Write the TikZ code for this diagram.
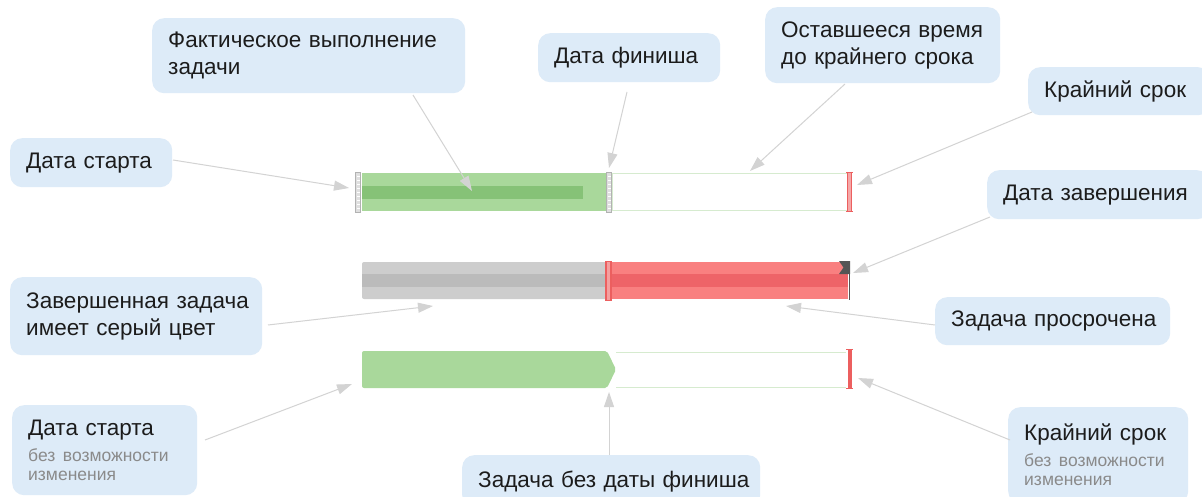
\documentclass[tikz,border=0pt]{standalone}
\usepackage{fontspec}
\setmainfont{Liberation Sans}
\usetikzlibrary{arrows.meta}
\definecolor{boxfill}{HTML}{DDEBF8}
\definecolor{txt}{HTML}{1C1C1C}
\definecolor{subtxt}{HTML}{8A8A8A}
\definecolor{gbar}{HTML}{A9D89B}
\definecolor{gstripe}{HTML}{86C277}
\definecolor{gline}{HTML}{D6EBCF}
\definecolor{greybar}{HTML}{CDCDCD}
\definecolor{greystripe}{HTML}{BBBBBB}
\definecolor{rbar}{HTML}{F98080}
\definecolor{rstripe}{HTML}{EE6468}
\definecolor{rmark}{HTML}{EC5F5F}
\definecolor{conncol}{HTML}{D3D3D3}
\definecolor{flagcol}{HTML}{555555}
\tikzset{
  lbl/.style={fill=boxfill, rounded corners=12pt, anchor=north west, align=left,
    inner xsep=16pt, inner ysep=0pt, text=txt, font=\fontsize{22.5}{27}\selectfont},
  conn/.style={draw=conncol, line width=1pt, -{Triangle[length=15pt,width=10pt,fill=conncol]}},
}
\newcommand{\subtext}[1]{{\color{subtxt}\fontsize{17.5}{19}\selectfont #1\par}}
\begin{document}
\begin{tikzpicture}[x=1pt,y=-1pt]
\clip (0,0) rectangle (1202,497);
\fill[white] (0,0) rectangle (1202,497);

% ---------- label boxes ----------
\node[lbl, text width=281pt, minimum height=75pt] (fact) at (152,18) {\mbox{Фактическое выполнение}\\задачи};
\node[lbl, text width=150pt, minimum height=49pt] (fin) at (538,33) {\mbox{Дата финиша}};
\node[lbl, text width=203pt, minimum height=76pt] (rem) at (765,7) {\mbox{Оставшееся время}\\\mbox{до крайнего срока}};
\node[lbl, text width=150pt, minimum height=48pt] (dead) at (1028,67) {\mbox{Крайний срок}};
\node[lbl, text width=190pt, minimum height=49pt] (done) at (987,170) {\mbox{Дата завершения}};
\node[lbl, text width=130pt, minimum height=49pt] (start) at (10,138) {\mbox{Дата старта}};
\node[lbl, text width=220pt, minimum height=78pt] (grey) at (10,277) {\mbox{Завершенная задача}\\\mbox{имеет серый цвет}};
\node[lbl, text width=203pt, minimum height=48pt] (over) at (935,297) {\mbox{Задача просрочена}};
\node[lbl, text width=153pt, minimum height=90pt] (start2) at (12,405) {\mbox{Дата старта}\\[7pt]\subtext{\mbox{без возможности}\\\mbox{изменения}}};
\node[lbl, text width=266pt, minimum height=52pt] (nofin) at (462,455) {\mbox{Задача без даты финиша}};
\node[lbl, text width=148pt, minimum height=96pt] (dead2) at (1008,407) {\mbox{Крайний срок}\\[7pt]\subtext{\mbox{без возможности}\\\mbox{изменения}}};

% ---------- row 1 ----------
\fill[gbar] (362,173) rectangle (606,211);
\fill[gstripe] (362,186) rectangle (583,199);
\draw[gline, line width=1pt] (612,174) rectangle (847,211);
% start marker
\node[fill=gray!25, draw=gray!60, line width=0.8pt, minimum width=5pt, minimum height=40pt, inner sep=0pt] (sm) at (358,192) {};
\foreach \yy in {176,180,...,208} \draw[white, line width=0.6pt] (356.5,\yy) -- (359.5,\yy);
% finish marker
\node[fill=gray!25, draw=gray!60, line width=0.8pt, minimum width=5pt, minimum height=40pt, inner sep=0pt] (fm) at (609,192) {};
\foreach \yy in {176,180,...,208} \draw[white, line width=0.6pt] (607.5,\yy) -- (610.5,\yy);
% deadline marker
\node[fill=rmark!55, minimum width=4pt, minimum height=40pt, inner sep=0pt] (dm) at (849.5,192) {};
\draw[rmark, line width=1.3pt] (847.5,172) -- (847.5,212) (851.5,172) -- (851.5,212) (846,172.5) -- (853,172.5) (846,211.5) -- (853,211.5);

% ---------- row 2 ----------
\fill[greybar, rounded corners=2pt] (362,262) rectangle (607,299);
\fill[greystripe] (362,274) rectangle (607,287);
\fill[rbar] (610,262) rectangle (848,299);
\fill[rstripe] (610,274) rectangle (848,287);
\node[fill=rmark!60, draw=rmark, line width=1.2pt, minimum width=5pt, minimum height=39pt, inner sep=0pt] (rm) at (608.5,281) {};
\fill[flagcol] (839,261) -- (850,261) -- (850,274) -- (839,274) -- (843.5,267.5) -- cycle;
\draw[flagcol, line width=1.3pt] (849.3,261) -- (849.3,300);

% ---------- row 3 ----------
\fill[gbar, rounded corners=2pt] (362,351) -- (607,351) -- (616,369.5) -- (607,388) -- (362,388) -- cycle;
\draw[gline, line width=1pt] (616,352) -- (846,352) (616,387) -- (846,387);
\node[fill=rmark, minimum width=4pt, minimum height=40pt, inner sep=0pt] (dm2) at (849.5,369) {};
\draw[rmark, line width=1.3pt] (846,349.5) -- (853,349.5) (846,388.5) -- (853,388.5);

% ---------- connectors ----------
\coordinate (c1s) at (173,160); \coordinate (c1t) at (349,188);
\coordinate (c2s) at (413,95);  \coordinate (c2t) at (472,191);
\coordinate (c3s) at (627,92);  \coordinate (c3t) at (609,168);
\coordinate (c4s) at (845,84);  \coordinate (c4t) at (750,171);
\coordinate (c5s) at (1032,112); \coordinate (c5t) at (857,185);
\coordinate (c6s) at (990,217); \coordinate (c6t) at (853,273);
\coordinate (c7s) at (268,325); \coordinate (c7t) at (433,306);
\coordinate (c8s) at (935,325); \coordinate (c8t) at (786,306);
\coordinate (c9s) at (205,440); \coordinate (c9t) at (352,384);
\coordinate (c10s) at (609,455); \coordinate (c10t) at (609,392);
\coordinate (c11s) at (1010,440); \coordinate (c11t) at (858,378);
\draw[conn] (c1s) -- (c1t);
\draw[conn] (c2s) -- (c2t);
\draw[conn] (c3s) -- (c3t);
\draw[conn] (c4s) -- (c4t);
\draw[conn] (c5s) -- (c5t);
\draw[conn] (c6s) -- (c6t);
\draw[conn] (c7s) -- (c7t);
\draw[conn] (c8s) -- (c8t);
\draw[conn] (c9s) -- (c9t);
\draw[conn] (c10s) -- (c10t);
\draw[conn] (c11s) -- (c11t);
\end{tikzpicture}
\end{document}
